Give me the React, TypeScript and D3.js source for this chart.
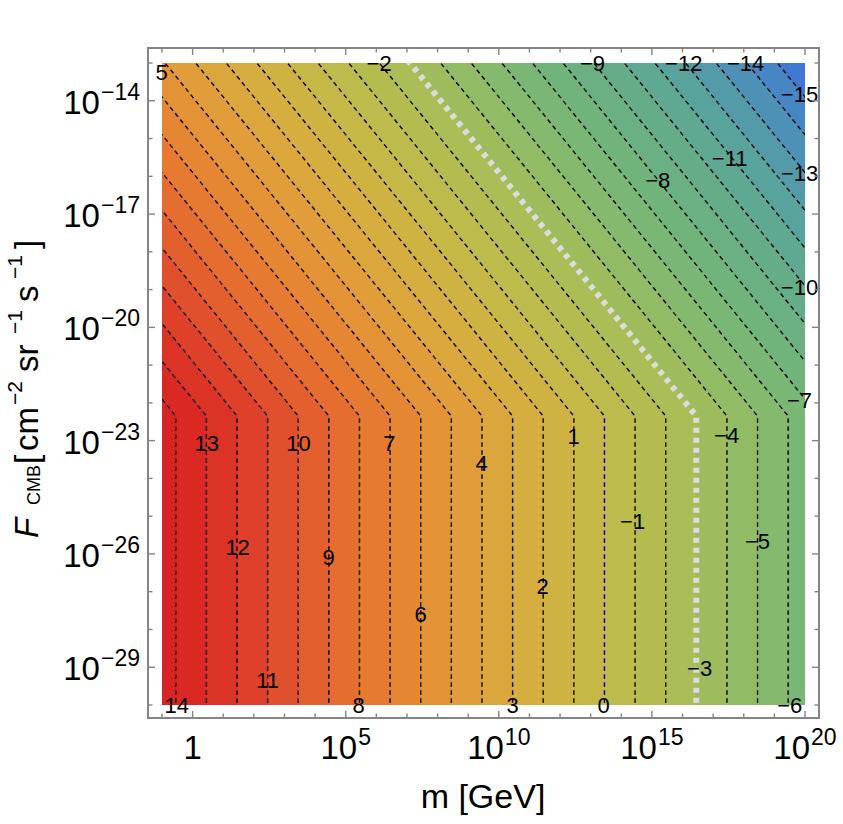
import React from 'react';
import * as d3 from 'd3';

const W = 843;
const H = 824;

// model: contour value v(log10 m, log10 F)
const VERT_OFFSET = 13.45; // v = VERT_OFFSET - lm (below kink)
const DIAG_OFFSET = -8.9; // v = DIAG_OFFSET - lm - lF (above kink)
const KINK_LF = DIAG_OFFSET - VERT_OFFSET;

const LM_DOMAIN = [-1, 20];
const LF_DOMAIN = [-30, -13];

const contourLevels = d3.range(-16, 16);
const highlightLevel = -3;

const colorStopValues = [15, 14, 12, 10, 8, 6, 4, 2, 0, -2, -4, -6, -8, -10, -12, -14, -16];
const colorStopColors = [
  '#d82022', '#d92424', '#dd3828', '#e2582d', '#e67430', '#e58c34', '#dea33a', '#d3b040',
  '#c1ba48', '#afbd52', '#99bc60', '#7eb872', '#6db27e', '#62aa8c', '#56a0a2', '#4a8cbe', '#3e72d6',
];

const xMajorTicks = [0, 5, 10, 15, 20];
const xMinorTicks = d3.range(-1, 21);
const yMajorTicks = [-14, -17, -20, -23, -26, -29];
const yMinorTicks = d3.range(-30, -12);

const labelValues = [5, -2, -9, -12, -14, -15, -11, -8, -13, -10, -7, 13, 10, 7, 4, 1, -4, -1, -5, 12, 9, 2, 6, 11, -3, 14, 8, 3, 0, -6];
const labelLogM = [-1.01, 6.09, 13.06, 16.04, 18.06, 19.82, 17.54, 15.19, 19.82, 19.82, 19.82, 0.46, 3.46, 6.43, 9.44, 12.44, 17.44, 14.37, 18.45, 1.47, 4.44, 11.43, 7.45, 2.45, 16.56, -0.52, 5.42, 10.45, 13.42, 19.5];
const labelLogF = [-13.24, -13.0, -13.0, -13.0, -13.0, -13.82, -15.52, -16.1, -15.91, -18.93, -21.92, -23.06, -23.06, -23.06, -23.59, -22.88, -22.85, -25.13, -25.66, -25.82, -26.08, -26.85, -27.59, -29.34, -29.02, -30.0, -30.0, -30.0, -30.0, -30.0];

const FONT = '"Liberation Sans", Arial, Helvetica, sans-serif';

const x = d3.scaleLinear().domain(LM_DOMAIN).range([162, 805]);
const y = d3.scaleLinear().domain(LF_DOMAIN).range([705, 63]);
const color = d3.scaleLinear<string>().domain(colorStopValues).range(colorStopColors).interpolate(d3.interpolateRgb);

const line = d3.line<[number, number]>().x((d) => x(d[0])).y((d) => y(d[1]));

function contourPoints(v: number): [number, number][] {
  const lfLo = LF_DOMAIN[0] - 1;
  const lfHi = LF_DOMAIN[1] + 1;
  return [
    [VERT_OFFSET - v, lfLo],
    [VERT_OFFSET - v, KINK_LF],
    [DIAG_OFFSET - lfHi - v, lfHi],
  ];
}

function regionBelow(v: number): [number, number][] {
  const pts = contourPoints(v);
  return [...pts, [LM_DOMAIN[1] + 5, LF_DOMAIN[1] + 1], [LM_DOMAIN[1] + 5, LF_DOMAIN[0] - 1]];
}

function supLabel(exp: number) {
  return exp === 0 ? null : String(exp).replace('-', '\u2212');
}

export default function App() {
  const bands = [...contourLevels].reverse();
  const x0 = 148, x1 = 819, y0 = 48, y1 = 718;
  return (
    <svg width={W} height={H} style={{ position: 'absolute', left: 0, top: 0, background: '#fff' }} fontFamily={FONT}>
      <defs>
        <clipPath id="plotClip">
          <rect x={x(LM_DOMAIN[0])} y={y(LF_DOMAIN[1])} width={x(LM_DOMAIN[1]) - x(LM_DOMAIN[0])} height={y(LF_DOMAIN[0]) - y(LF_DOMAIN[1])} />
        </clipPath>
        <clipPath id="frameClip">
          <rect x={x0 + 1} y={y0 + 1} width={x1 - x0 - 2} height={y1 - y0 - 2} />
        </clipPath>
      </defs>
      <g clipPath="url(#plotClip)">
        {bands.map((k) => (
          <path key={'b' + k} d={line(regionBelow(k + 1)) + 'Z'} fill={color(k + 0.5)} stroke="none" />
        ))}
        {contourLevels.filter((v) => v !== highlightLevel).map((v) => (
          <path key={'c' + v} d={line(contourPoints(v)) || ''} fill="none" stroke="#000" strokeWidth={1.4} strokeDasharray="4.5 3.5" />
        ))}
        <path d={line(contourPoints(highlightLevel)) || ''} fill="none" stroke="#dcdcdc" strokeWidth={6} strokeDasharray="5 5" />
      </g>
      <g clipPath="url(#frameClip)">
        {labelValues.map((v, i) => (
          <text key={'l' + i} x={x(labelLogM[i])} y={y(labelLogF[i])} dy="0.36em" textAnchor="middle" fontSize={22} fill="#000">
            {String(v).replace('-', '\u2212')}
          </text>
        ))}
      </g>
      <rect x={x0} y={y0} width={x1 - x0} height={y1 - y0} fill="none" stroke="#858585" strokeWidth={2} />
      {xMinorTicks.map((t) => {
        const len = xMajorTicks.includes(t) ? 7 : 4.5;
        return (
          <g key={'xt' + t} stroke="#858585" strokeWidth={1.4}>
            <line x1={x(t)} x2={x(t)} y1={y1} y2={y1 - len} />
            <line x1={x(t)} x2={x(t)} y1={y0} y2={y0 + len} />
          </g>
        );
      })}
      {yMinorTicks.map((t) => {
        const len = yMajorTicks.includes(t) ? 7 : 4.5;
        return (
          <g key={'yt' + t} stroke="#858585" strokeWidth={1.4}>
            <line x1={x0} x2={x0 + len} y1={y(t)} y2={y(t)} />
            <line x1={x1} x2={x1 - len} y1={y(t)} y2={y(t)} />
          </g>
        );
      })}
      {xMajorTicks.map((t) => (
        <text key={'xl' + t} x={x(t)} y={759} textAnchor="middle" fontSize={33} fill="#000">
          {t === 0 ? '1' : '10'}
          {t !== 0 && (
            <tspan fontSize={23} dy={-14} dx={1}>
              {supLabel(t)}
            </tspan>
          )}
        </text>
      ))}
      {yMajorTicks.map((t) => (
        <text key={'yl' + t} x={140} y={y(t) + 13} textAnchor="end" fontSize={33} fill="#000">
          10
          <tspan fontSize={23} dy={-14} dx={1}>
            {supLabel(t)}
          </tspan>
        </text>
      ))}
      <text x={483} y={808} textAnchor="middle" fontSize={34} fill="#000">
        m [GeV]
      </text>
      <g transform="translate(38, 538) rotate(-90)" fill="#000">
        <text x={0} y={0} fontSize={33} fontStyle="italic">F</text>
        <text x={33} y={2} fontSize={18}>CMB</text>
        <text x={74} y={0} fontSize={33}>[</text>
        <text x={87} y={0} fontSize={33}>cm</text>
        <text x={133} y={-16} fontSize={21}>{'\u22122'}</text>
        <text x={166} y={0} fontSize={33}>sr</text>
        <text x={204} y={-16} fontSize={21}>{'\u22121'}</text>
        <text x={236} y={0} fontSize={33}>s</text>
        <text x={259} y={-16} fontSize={21}>{'\u22121'}</text>
        <text x={289} y={0} fontSize={33}>]</text>
      </g>
    </svg>
  );
}
